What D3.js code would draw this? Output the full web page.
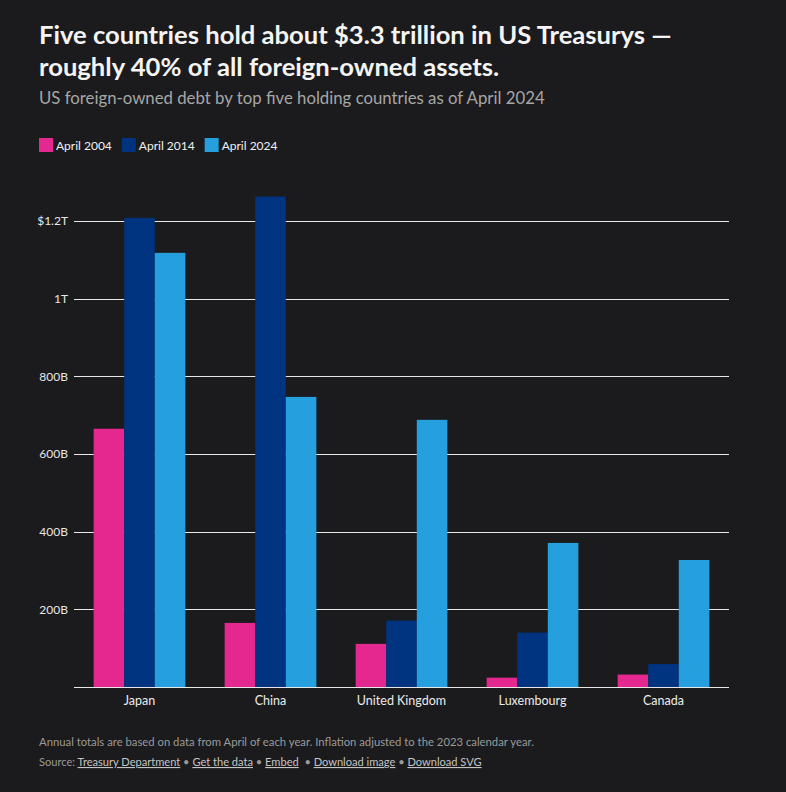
<!DOCTYPE html>
<html>
<head>
<meta charset="utf-8">
<script src="https://cdn.jsdelivr.net/npm/d3@7"></script>
<style>
  html, body { margin: 0; padding: 0; background: #1b1b1d; }
  svg { display: block; }
  text { font-family: Lato, "Noto Sans", sans-serif; }
</style>
</head>
<body>
<svg id="chart" width="786" height="792"></svg>
<script>
// ---- Data ----
const countries = ["Japan", "China", "United Kingdom", "Luxembourg", "Canada"];
const seriesNames = ["April 2004", "April 2014", "April 2024"];
const april2004 = [665e9, 165e9, 111e9, 24e9, 32e9];
const april2014 = [1208e9, 1263e9, 171e9, 140e9, 59e9];
const april2024 = [1118e9, 747e9, 688e9, 371e9, 327e9];
const tickValues = [200e9, 400e9, 600e9, 800e9, 1000e9, 1200e9];
const tickLabels = ["200B", "400B", "600B", "800B", "1T", "$1.2T"];
const colors = ["#e5288f", "#003380", "#259fdd"];

const seriesValues = [april2004, april2014, april2024];

const svg = d3.select("#chart");
svg.append("rect").attr("width", 786).attr("height", 792).attr("fill", "#1b1b1d");

function fit(sel, w) {
  const node = sel.node();
  const fs = parseFloat(sel.attr("font-size"));
  const cur = node.getComputedTextLength();
  sel.attr("font-size", (fs * w / cur).toFixed(2));
}

// ---- Header ----
const t1 = svg.append("text").attr("x", 39).attr("y", 44)
  .attr("fill", "#f4f4f4").attr("font-weight", 700).attr("font-size", 26)
  .text("Five countries hold about $3.3 trillion in US Treasurys —");
fit(t1, 633);
const t2 = svg.append("text").attr("x", 39).attr("y", 76)
  .attr("fill", "#f4f4f4").attr("font-weight", 700).attr("font-size", t1.attr("font-size"))
  .text("roughly 40% of all foreign-owned assets.");
svg.append("text").attr("x", 39).attr("y", 104)
  .attr("fill", "#a6a6a6").attr("font-size", 17)
  .text("US foreign-owned debt by top five holding countries as of April 2024")
  .call(s => fit(s, 506));

// ---- Legend ----
let lx = 39;
seriesNames.forEach((name, i) => {
  svg.append("rect").attr("x", lx).attr("y", 138).attr("width", 14).attr("height", 14)
    .attr("fill", colors[i]);
  const tx = svg.append("text").attr("x", lx + 17).attr("y", 149.5)
    .attr("fill", "#f0f0f0").attr("font-size", 12).text(name);
  lx = lx + 17 + tx.node().getComputedTextLength() + 10;
});

// ---- Scales ----
const x0 = d3.scaleBand().domain(countries).range([74, 729])
  .paddingInner(0.3).paddingOuter(0.15);
const x1 = d3.scaleBand().domain(seriesNames).range([0, x0.bandwidth()]);
const y = d3.scaleLinear().domain([0, 1.2e12]).range([687, 221]);

// ---- Grid + y axis ----
const yAxis = d3.axisLeft(y).tickValues(tickValues)
  .tickFormat((d, i) => tickLabels[i]).tickSize(0).tickPadding(6);
const gy = svg.append("g").attr("transform", "translate(74,0)").call(yAxis);
gy.select(".domain").remove();
gy.selectAll("text").attr("fill", "#e6e6e6").attr("font-size", 12)
  .attr("font-family", "Lato, 'Noto Sans', sans-serif");

svg.append("g").selectAll("line").data(tickValues).join("line")
  .attr("x1", 74).attr("x2", 729)
  .attr("y1", d => Math.round(y(d)) + 0.5).attr("y2", d => Math.round(y(d)) + 0.5)
  .attr("stroke", "#e8e8e8").attr("stroke-width", 1);

// ---- Bars ----
const groups = svg.append("g").selectAll("g").data(countries).join("g")
  .attr("transform", d => `translate(${x0(d)},0)`);
groups.selectAll("rect")
  .data((c, ci) => seriesNames.map((s, si) => ({ s, si, v: seriesValues[si][ci] })))
  .join("rect")
  .attr("x", d => x1(d.s))
  .attr("width", x1.bandwidth())
  .attr("y", d => y(d.v))
  .attr("height", d => y(0) - y(d.v))
  .attr("fill", d => colors[d.si]);

// ---- Baseline + x axis ----
const xAxis = d3.axisBottom(x0).tickSize(0).tickPadding(9);
const gx = svg.append("g").attr("transform", "translate(0,687)").call(xAxis);
gx.select(".domain").attr("stroke", "#e8e8e8").attr("d", "M74,0.5H729");
gx.selectAll("text").attr("fill", "#ececec").attr("font-size", 12.5)
  .attr("font-family", "Lato, 'Noto Sans', sans-serif");

// ---- Footer ----
svg.append("text").attr("x", 39).attr("y", 746)
  .attr("fill", "#9a9a9a").attr("font-size", 12)
  .text("Annual totals are based on data from April of each year. Inflation adjusted to the 2023 calendar year.")
  .call(s => fit(s, 495));
const src = svg.append("text").attr("x", 39).attr("y", 766)
  .attr("fill", "#9a9a9a").attr("font-size", 12);
const srcParts = [
  ["Source: ", false], ["Treasury Department", true], [" • ", false], ["Get the data", true],
  [" • ", false], ["Embed", true], ["  • ", false], ["Download image", true], [" • ", false], ["Download SVG", true]
];
srcParts.forEach(([txt, link]) => {
  const ts = src.append("tspan").text(txt).attr("xml:space", "preserve");
  if (link) ts.attr("fill", "#c4c4c4").style("text-decoration", "underline");
});
src.attr("xml:space", "preserve");
fit(src, 443);
</script>
</body>
</html>
